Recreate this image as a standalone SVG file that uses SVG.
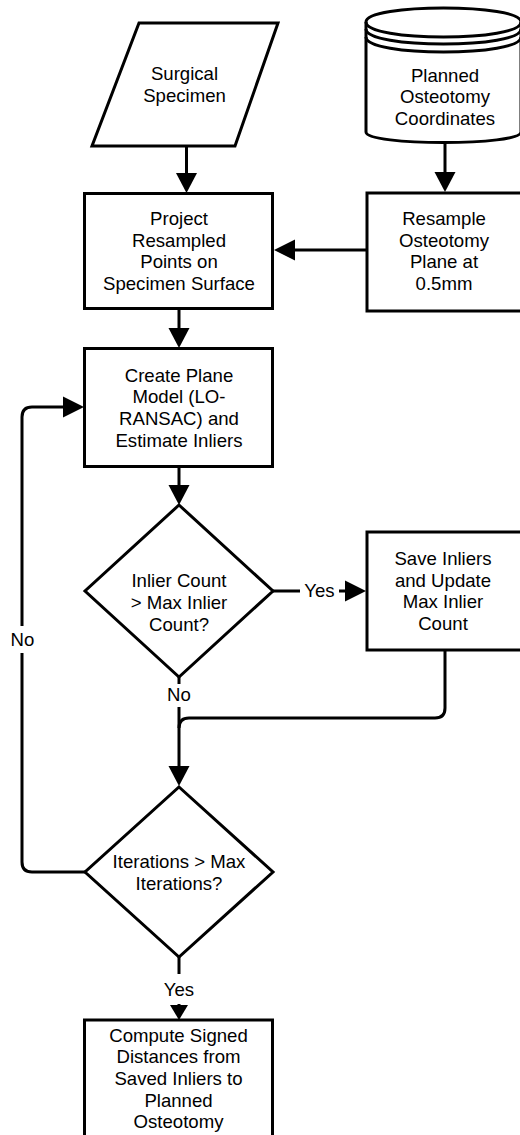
<svg xmlns="http://www.w3.org/2000/svg" width="520" height="1135" viewBox="0 0 520 1135">
<style>
.s{fill:#fff;stroke:#000;stroke-width:3;stroke-linejoin:miter}
.ln{fill:none;stroke:#000;stroke-width:3}
.ah{fill:#000;stroke:none}
text{font-family:"Liberation Sans",Arial,sans-serif;font-size:18.6px;fill:#000;text-anchor:middle}
</style>
<rect width="520" height="1135" fill="#fff"/>
<g id="connectors">
<path class="ln" d="M186.5,146 V174"/>
<polygon class="ah" points="176,173 197,173 186.5,193"/>
<path class="ln" d="M445,143 V173"/>
<polygon class="ah" points="434.5,172 455.5,172 445,192"/>
<path class="ln" d="M367,250 H294"/>
<polygon class="ah" points="295,239.5 295,260.5 274,250"/>
<path class="ln" d="M179,308 V329"/>
<polygon class="ah" points="168.5,328 189.5,328 179,348"/>
<path class="ln" d="M179,467 V486"/>
<polygon class="ah" points="168.5,485 189.5,485 179,505"/>
<path class="ln" d="M273,591 H346"/>
<polygon class="ah" points="345,580.5 345,601.5 366,591"/>
<path class="ln" d="M179,677 V768"/>
<polygon class="ah" points="168.5,766 189.5,766 179,786"/>
<path class="ln" d="M445,650 V708 Q445,718 435,718 H189 Q179,718 179,728"/>
<path class="ln" d="M85,872 H32 Q22,872 22,862 V417 Q22,407 32,407 H64"/>
<polygon class="ah" points="63,396.5 63,417.5 84,407"/>
<path class="ln" d="M179,957 V1006"/>
<polygon class="ah" points="170,1005 188,1005 179,1020"/>
<rect x="300" y="580" width="39" height="22" fill="#fff"/>
<text x="319.5" y="597">Yes</text>
<rect x="164" y="684" width="30" height="23" fill="#fff"/>
<text x="179" y="701">No</text>
<rect x="8" y="626" width="30" height="27" fill="#fff"/>
<text x="22.5" y="646">No</text>
<rect x="160" y="974" width="38" height="30" fill="#fff"/>
<text x="179" y="996">Yes</text>
</g>
<g id="surgical-specimen">
<polygon class="s" points="139,23 278,23 235,146 92,146"/>
<text x="184.5" y="80">Surgical</text>
<text x="184.5" y="101.7">Specimen</text>
</g>
<g id="planned-coordinates">
<path class="s" d="M366,22 C366,3.3 521,3.3 521,22 V132 C521,146 366,146 366,132 Z"/>
<path class="ln" d="M366,22 C366,42 521,42 521,22"/>
<path class="ln" d="M366,29 C366,49 521,49 521,29"/>
<path class="ln" d="M366,37 C366,57 521,57 521,37"/>
<text x="445" y="81.5">Planned</text>
<text x="445" y="103">Osteotomy</text>
<text x="445" y="124.5">Coordinates</text>
</g>
<g id="project">
<rect class="s" x="84.5" y="193.5" width="188" height="115"/>
<text x="179" y="225">Project</text>
<text x="179" y="246.7">Resampled</text>
<text x="179" y="268.4">Points on</text>
<text x="179" y="290">Specimen Surface</text>
</g>
<g id="resample">
<rect class="s" x="367" y="193" width="160" height="118"/>
<text x="444" y="225">Resample</text>
<text x="444" y="246.7">Osteotomy</text>
<text x="444" y="268.4">Plane at</text>
<text x="444" y="290">0.5mm</text>
</g>
<g id="create-plane">
<rect class="s" x="84.5" y="348.5" width="188" height="118"/>
<text x="179" y="381.5">Create Plane</text>
<text x="179" y="403.2">Model (LO-</text>
<text x="179" y="424.9">RANSAC) and</text>
<text x="179" y="446.6">Estimate Inliers</text>
</g>
<g id="inlier-decision">
<polygon class="s" points="179,505 273,591 179,677 85,591"/>
<text x="179" y="587.3">Inlier Count</text>
<text x="179" y="609">&gt; Max Inlier</text>
<text x="179" y="630.7">Count?</text>
</g>
<g id="save-inliers">
<rect class="s" x="367" y="532" width="160" height="118"/>
<text x="443" y="565">Save Inliers</text>
<text x="443" y="586.5">and Update</text>
<text x="443" y="608">Max Inlier</text>
<text x="443" y="630">Count</text>
</g>
<g id="iterations-decision">
<polygon class="s" points="179,787 273,872 179,957 85,872"/>
<text x="179" y="868.3">Iterations &gt; Max</text>
<text x="179" y="890">Iterations?</text>
</g>
<g id="compute-distances">
<rect class="s" x="84.5" y="1020" width="188" height="140"/>
<text x="178.5" y="1041.7">Compute Signed</text>
<text x="178.5" y="1063.3">Distances from</text>
<text x="178.5" y="1085">Saved Inliers to</text>
<text x="178.5" y="1106.7">Planned</text>
<text x="178.5" y="1128.3">Osteotomy</text>
</g>
</svg>
